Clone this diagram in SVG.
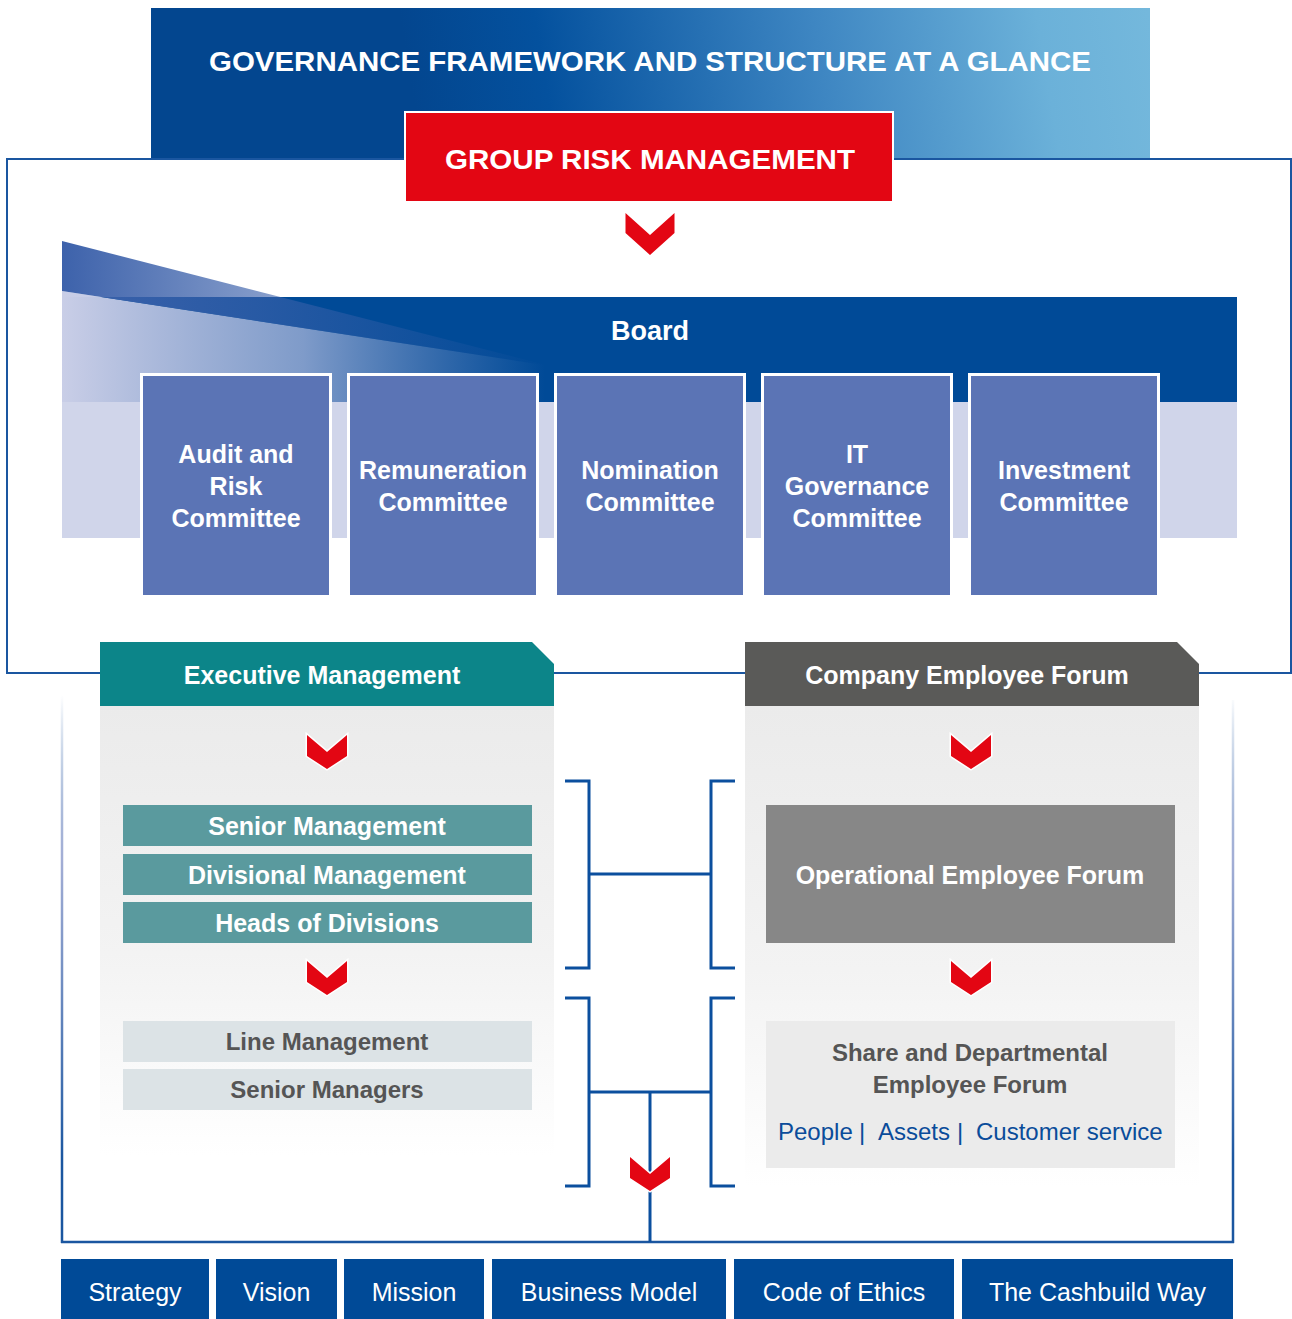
<svg xmlns="http://www.w3.org/2000/svg" width="1292" height="1319" viewBox="0 0 1292 1319">
  <style>
    text { font-family: "Liberation Sans", Arial, Helvetica, sans-serif; text-anchor: middle; }
    .wb { fill: #ffffff; font-weight: bold; }
    .gb { fill: #555555; font-weight: bold; }
    .com { font-size: 25px; }
    .cap { font-size: 28px; }
    .sub { font-size: 25px; }
    .lite { font-size: 24px; }
    .foot { fill: #ffffff; font-size: 25px; }
    .link { fill: #0A4C9A; font-size: 24px; text-anchor: start; }
    .committee { fill: #5B74B5; stroke: #ffffff; stroke-width: 3; }
    .conn { fill: none; stroke: #0B4F9E; stroke-width: 3; }
    .chev { fill: #E30613; stroke: #ffffff; stroke-width: 3; paint-order: stroke; stroke-linejoin: miter; }
    .frame { fill: none; stroke: #1A56A0; stroke-width: 2; }
    .pill { fill: #004A97; }
  </style>
  <defs>
    <linearGradient id="hdrGrad" gradientUnits="userSpaceOnUse" x1="420" y1="140" x2="1150" y2="20">
      <stop offset="0" stop-color="#03468F"/>
      <stop offset="0.18" stop-color="#04519E"/>
      <stop offset="0.55" stop-color="#3E86C2"/>
      <stop offset="0.85" stop-color="#6BB1D9"/>
      <stop offset="1" stop-color="#74B8DC"/>
    </linearGradient>
    <linearGradient id="wedgeGrad" gradientUnits="userSpaceOnUse" x1="62" y1="0" x2="550" y2="0">
      <stop offset="0" stop-color="#3D62AB" stop-opacity="1"/>
      <stop offset="0.4" stop-color="#3D62AB" stop-opacity="0.65"/>
      <stop offset="1" stop-color="#3D62AB" stop-opacity="0"/>
    </linearGradient>
    <linearGradient id="lavGrad" gradientUnits="userSpaceOnUse" x1="62" y1="0" x2="545" y2="0">
      <stop offset="0" stop-color="#C9CEE7" stop-opacity="1"/>
      <stop offset="0.5" stop-color="#A9B6DA" stop-opacity="0.75"/>
      <stop offset="1" stop-color="#8FA0CF" stop-opacity="0"/>
    </linearGradient>
    <linearGradient id="panelGrad" x1="0" y1="0" x2="0" y2="1">
      <stop offset="0" stop-color="#EBEBEB"/>
      <stop offset="0.55" stop-color="#F3F3F3"/>
      <stop offset="1" stop-color="#FFFFFF"/>
    </linearGradient>
    <linearGradient id="sideGrad" gradientUnits="userSpaceOnUse" x1="0" y1="695" x2="0" y2="1160">
      <stop offset="0" stop-color="#1A56A0" stop-opacity="0"/>
      <stop offset="0.35" stop-color="#8C9ACB" stop-opacity="0.8"/>
      <stop offset="1" stop-color="#1A56A0" stop-opacity="1"/>
    </linearGradient>
    <!-- small chevron, origin at top centre -->
    <path id="chevSmall" d="M-20,0 L0,17 L20,0 L20,21 L0,34 L-20,21 Z"/>
    <path id="chevLarge" d="M-24.5,0 L0,22 L24.5,0 L24.5,20 L0,42 L-24.5,20 Z"/>
  </defs>

  <!-- outer frame around board section -->
  <rect class="frame" x="7" y="159" width="1284" height="514"/>

  <!-- header -->
  <g id="header">
    <rect x="151" y="8" width="999" height="150" fill="url(#hdrGrad)"/>
    <text class="wb cap" x="650" y="71" textLength="882" lengthAdjust="spacingAndGlyphs">GOVERNANCE FRAMEWORK AND STRUCTURE AT A GLANCE</text>
  </g>

  <g id="group-risk">
    <rect x="405" y="112" width="488" height="90" fill="#E30613" stroke="#ffffff" stroke-width="2"/>
    <text class="wb cap" x="650" y="169" textLength="410" lengthAdjust="spacingAndGlyphs">GROUP RISK MANAGEMENT</text>
  </g>

  <use href="#chevLarge" x="650" y="213" fill="#E30613"/>

  <!-- board band -->
  <g id="board">
    <rect x="62" y="297" width="1175" height="105" fill="#004A97"/>
    <rect x="62" y="402" width="1175" height="136" fill="#D0D5EA"/>
    <polygon points="62,291 550,366 550,402 62,402" fill="url(#lavGrad)"/>
    <polygon points="62,241 62,291 550,366" fill="url(#wedgeGrad)"/>
    <text class="wb" x="650" y="340" font-size="27">Board</text>
  </g>

  <!-- committees -->
  <g id="audit-risk">
    <rect class="committee" x="141.5" y="374.5" width="189" height="222"/>
    <text class="wb com" x="236" y="463">Audit and</text>
    <text class="wb com" x="236" y="495">Risk</text>
    <text class="wb com" x="236" y="527">Committee</text>
  </g>
  <g id="remuneration">
    <rect class="committee" x="348.5" y="374.5" width="189" height="222"/>
    <text class="wb com" x="443" y="479">Remuneration</text>
    <text class="wb com" x="443" y="511">Committee</text>
  </g>
  <g id="nomination">
    <rect class="committee" x="555.5" y="374.5" width="189" height="222"/>
    <text class="wb com" x="650" y="479">Nomination</text>
    <text class="wb com" x="650" y="511">Committee</text>
  </g>
  <g id="it-governance">
    <rect class="committee" x="762.5" y="374.5" width="189" height="222"/>
    <text class="wb com" x="857" y="463">IT</text>
    <text class="wb com" x="857" y="495">Governance</text>
    <text class="wb com" x="857" y="527">Committee</text>
  </g>
  <g id="investment">
    <rect class="committee" x="969.5" y="374.5" width="189" height="222"/>
    <text class="wb com" x="1064" y="479">Investment</text>
    <text class="wb com" x="1064" y="511">Committee</text>
  </g>

  <!-- lower frame -->
  <g id="lower-frame">
    <line x1="62" y1="695" x2="62" y2="1243" stroke="url(#sideGrad)" stroke-width="2.5"/>
    <line x1="1233" y1="700" x2="1233" y2="1243" stroke="url(#sideGrad)" stroke-width="2.5"/>
    <line x1="61" y1="1242" x2="1234" y2="1242" stroke="#1A56A0" stroke-width="2.5"/>
  </g>

  <!-- executive management column -->
  <g id="executive-management">
    <rect x="100" y="706" width="454" height="450" fill="url(#panelGrad)"/>
    <polygon points="100,642 532,642 554,664 554,706 100,706" fill="#0C8589"/>
    <text class="wb sub" x="322" y="684">Executive Management</text>
  </g>
  <use class="chev" href="#chevSmall" x="327" y="735"/>
  <g id="senior-management">
    <rect x="123" y="805" width="409" height="41" fill="#5A9A9E"/>
    <text class="wb sub" x="327" y="835">Senior Management</text>
  </g>
  <g id="divisional-management">
    <rect x="123" y="854" width="409" height="41" fill="#5A9A9E"/>
    <text class="wb sub" x="327" y="884">Divisional Management</text>
  </g>
  <g id="heads-of-divisions">
    <rect x="123" y="902" width="409" height="41" fill="#5A9A9E"/>
    <text class="wb sub" x="327" y="932">Heads of Divisions</text>
  </g>
  <use class="chev" href="#chevSmall" x="327" y="961"/>
  <g id="line-management">
    <rect x="123" y="1021" width="409" height="41" fill="#DCE3E6"/>
    <text class="gb lite" x="327" y="1050">Line Management</text>
  </g>
  <g id="senior-managers">
    <rect x="123" y="1069" width="409" height="41" fill="#DCE3E6"/>
    <text class="gb lite" x="327" y="1098">Senior Managers</text>
  </g>

  <!-- company employee forum column -->
  <g id="company-employee-forum">
    <rect x="745" y="706" width="454" height="480" fill="url(#panelGrad)"/>
    <polygon points="745,642 1177,642 1199,664 1199,706 745,706" fill="#5A5A58"/>
    <text class="wb sub" x="967" y="684">Company Employee Forum</text>
  </g>
  <use class="chev" href="#chevSmall" x="971" y="735"/>
  <g id="operational-employee-forum">
    <rect x="766" y="805" width="409" height="138" fill="#878787"/>
    <text class="wb sub" x="970" y="884">Operational Employee Forum</text>
  </g>
  <use class="chev" href="#chevSmall" x="971" y="961"/>
  <g id="share-departmental-forum">
    <rect x="766" y="1021" width="409" height="147" fill="#EBEBEB"/>
    <text class="gb lite" x="970" y="1061">Share and Departmental</text>
    <text class="gb lite" x="970" y="1093">Employee Forum</text>
    <text class="link" x="778" y="1140">People</text>
    <text class="link" x="859" y="1140">|</text>
    <text class="link" x="878" y="1140">Assets</text>
    <text class="link" x="957" y="1140">|</text>
    <text class="link" x="976" y="1140">Customer service</text>
  </g>

  <!-- connectors -->
  <g id="connectors">
    <path class="conn" d="M565,781 H589 V968 H565"/>
    <path class="conn" d="M735,781 H711 V968 H735"/>
    <path class="conn" d="M589,874 H711"/>
    <path class="conn" d="M565,998 H589 V1186 H565"/>
    <path class="conn" d="M735,998 H711 V1186 H735"/>
    <path class="conn" d="M589,1092 H711"/>
    <path class="conn" d="M650,1092 V1242"/>
    <use class="chev" href="#chevSmall" x="650" y="1157"/>
  </g>

  <!-- foundation boxes -->
  <g id="strategy">
    <rect class="pill" x="61" y="1259" width="148" height="60"/>
    <text class="foot" x="135" y="1301">Strategy</text>
  </g>
  <g id="vision">
    <rect class="pill" x="216" y="1259" width="121" height="60"/>
    <text class="foot" x="276.5" y="1301">Vision</text>
  </g>
  <g id="mission">
    <rect class="pill" x="344" y="1259" width="140" height="60"/>
    <text class="foot" x="414" y="1301">Mission</text>
  </g>
  <g id="business-model">
    <rect class="pill" x="492" y="1259" width="234" height="60"/>
    <text class="foot" x="609" y="1301">Business Model</text>
  </g>
  <g id="code-of-ethics">
    <rect class="pill" x="734" y="1259" width="220" height="60"/>
    <text class="foot" x="844" y="1301">Code of Ethics</text>
  </g>
  <g id="cashbuild-way">
    <rect class="pill" x="962" y="1259" width="271" height="60"/>
    <text class="foot" x="1097.5" y="1301">The Cashbuild Way</text>
  </g>
</svg>
